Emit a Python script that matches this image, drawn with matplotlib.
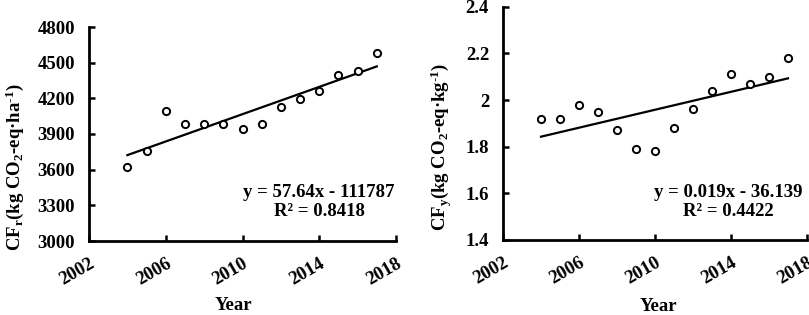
import numpy as np
import matplotlib
matplotlib.use("Agg")
import matplotlib.pyplot as plt

years = [2004, 2005, 2006, 2007, 2008, 2009, 2010, 2011, 2012, 2013, 2014, 2015, 2016, 2017]
cf_r = [3625, 3755, 4095, 3980, 3980, 3980, 3945, 3980, 4130, 4192, 4265, 4396, 4433, 4580]
cf_y = [1.92, 1.92, 1.98, 1.95, 1.87, 1.79, 1.78, 1.88, 1.96, 2.04, 2.11, 2.07, 2.10, 2.18]
x_ticks = [2002, 2006, 2010, 2014, 2018]
yr_ticks = [3000, 3300, 3600, 3900, 4200, 4500, 4800]
yy_ticks = [1.4, 1.6, 1.8, 2.0, 2.2, 2.4]
eq_r = "y = 57.64x - 111787\nR² = 0.8418"
eq_y = "y = 0.019x - 36.139\nR² = 0.4422"

plt.rcParams['font.family'] = ['Liberation Serif', 'DejaVu Serif']
plt.rcParams['font.weight'] = 'bold'
plt.rcParams['mathtext.fontset'] = 'custom'
plt.rcParams['mathtext.rm'] = 'Liberation Serif:bold'
plt.rcParams['mathtext.it'] = 'Liberation Serif:bold'
plt.rcParams['mathtext.bf'] = 'Liberation Serif:bold'
plt.rcParams['mathtext.default'] = 'rm'

fig = plt.figure(figsize=(8.09, 3.15), dpi=100)
fig.patch.set_facecolor('white')

ax1 = fig.add_axes([89/809, 1-241/315, 307/809, 214/315])
ax2 = fig.add_axes([503/809, 1-240/315, 304/809, 233.3/315])


def style(ax, x, y, yticks, ylim, eq, eqpos, ylabel, ylabpos, xlabpos, ytfmt):
    ax.plot(x, y, 'o', mfc='white', mec='black', ms=5.2, mew=1.4, zorder=3)
    k, b = np.polyfit(x, y, 1)
    xs = np.array([x[0], x[-1]])
    ax.plot(xs, k*xs + b, color='black', lw=1.6, zorder=2)
    ax.set_xlim(2002, 2018)
    ax.set_ylim(*ylim)
    ax.set_xticks(x_ticks)
    ax.set_yticks(yticks)
    ax.set_yticklabels([ytfmt(v) for v in yticks])
    for s in ['top', 'right']:
        ax.spines[s].set_visible(False)
    for s in ['left', 'bottom']:
        ax.spines[s].set_linewidth(2.0)
    ax.tick_params(direction='in', length=4.5, width=1.8, labelsize=13.5, pad=10)
    for lab in ax.get_xticklabels():
        lab.set_rotation(30)
        lab.set_ha('right')
        lab.set_va('top')
        lab.set_rotation_mode('anchor')
        lab.set_fontweight('bold')
    for lab in ax.get_yticklabels():
        lab.set_fontweight('bold')
    ax.text(eqpos[0], eqpos[1], eq, transform=ax.transAxes, ha='center', va='center',
            multialignment='center', fontsize=13.5, fontweight='bold', linespacing=1.2)
    ax.set_xlabel('Year', fontsize=13.5, fontweight='bold')
    ax.set_ylabel(ylabel, fontsize=13.5, fontweight='bold')
    ax.yaxis.set_label_coords(*ylabpos)
    ax.xaxis.set_label_coords(*xlabpos)


style(ax1, years, cf_r, yr_ticks, (3000, 4800), eq_r, (0.749, 0.182),
      r"CF$_{r}$(kg CO$_{2}$-eq·ha$^{\text{-}1}$)", (-0.205, 0.345), (0.47, -0.262),
      lambda v: f"{v:d}")
style(ax2, years, cf_y, yy_ticks, (1.4, 2.4), eq_y, (0.74, 0.163),
      r"CF$_{y}$(kg CO$_{2}$-eq·kg$^{\text{-}1}$)", (-0.16, 0.40), (0.51, -0.25),
      lambda v: f"{v:g}")

fig.savefig('out.png', dpi=100, facecolor='white')
